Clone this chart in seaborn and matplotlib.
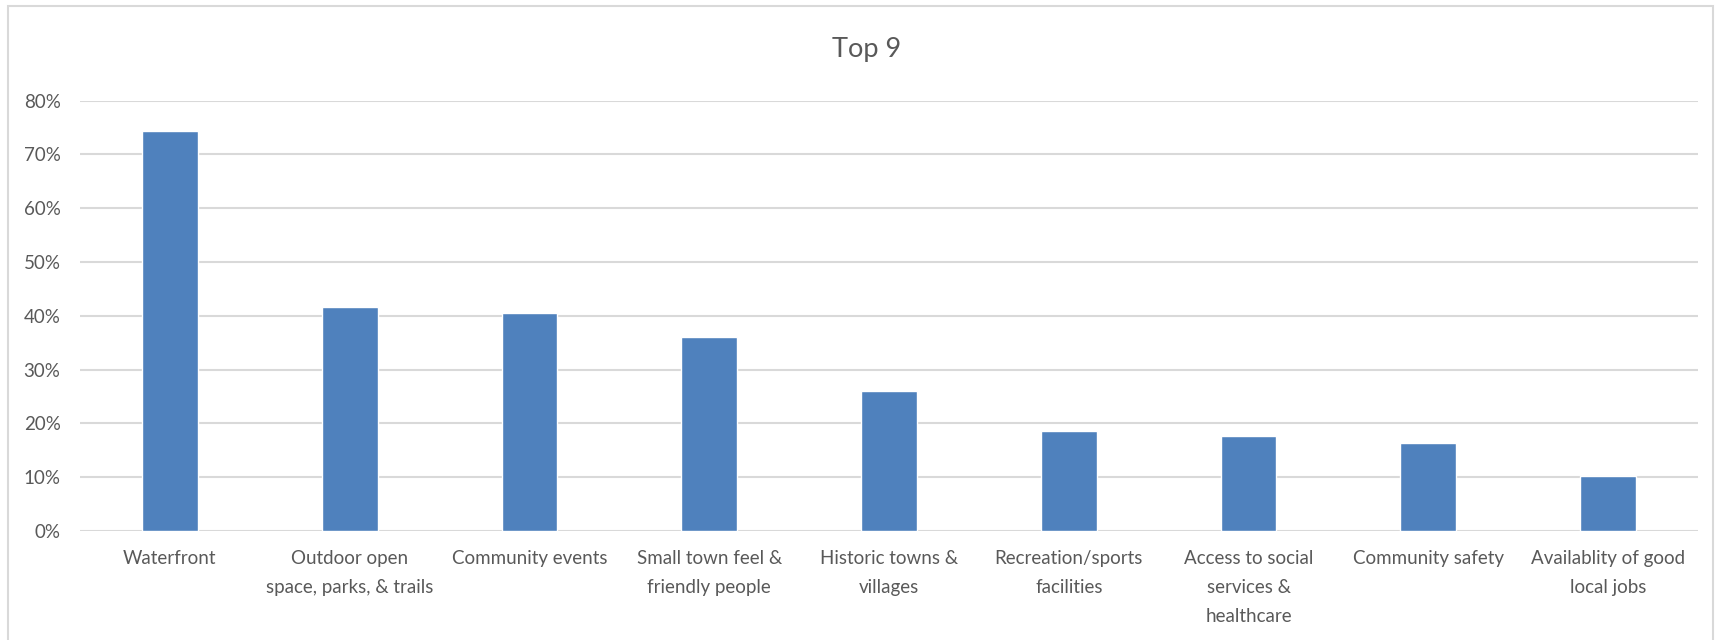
import matplotlib
matplotlib.use("Agg")
import matplotlib.pyplot as plt
import seaborn as sns
from matplotlib.ticker import PercentFormatter, MultipleLocator
from matplotlib.patches import Rectangle

# Share of respondents naming each community asset
categories = [
    "Waterfront",
    "Outdoor open\nspace, parks, & trails",
    "Community events",
    "Small town feel &\nfriendly people",
    "Historic towns &\nvillages",
    "Recreation/sports\nfacilities",
    "Access to social\nservices &\nhealthcare",
    "Community safety",
    "Availablity of good\nlocal jobs",
]
shares = [0.744, 0.417, 0.406, 0.361, 0.261, 0.185, 0.176, 0.164, 0.102]
title = "Top 9"

sns.set_theme(style="white")
plt.rcParams["font.family"] = ["Lato", "DejaVu Sans"]

BAR = "#4F81BD"
GRID = "#D9D9D9"
TEXT = "#595959"

fig = plt.figure(figsize=(17.23, 6.40), dpi=100)
fig.patch.set_facecolor("white")

# light chart-area frame
fig.patches.append(Rectangle((8 / 1723, -0.05), 1705 / 1723, 1.05 - 6 / 640,
                             transform=fig.transFigure, fill=False,
                             edgecolor=GRID, linewidth=1.5))

ax = fig.add_axes([80 / 1723, 109 / 640, 1618 / 1723, 430.3 / 640])
sns.barplot(x=categories, y=shares, color=BAR, saturation=1, width=0.31, ax=ax, zorder=3)

ax.set_ylim(0, 0.8)
ax.set_xlim(-0.5, len(categories) - 0.5)
ax.yaxis.set_major_locator(MultipleLocator(0.1))
ax.yaxis.set_major_formatter(PercentFormatter(1, decimals=0))
ax.grid(axis="y", color=GRID, linewidth=1.5, zorder=0)
for s in ax.spines.values():
    s.set_visible(False)
ax.tick_params(axis="both", length=0, colors=TEXT, labelsize=13.5)
ax.tick_params(axis="y", pad=14)
ax.tick_params(axis="x", pad=14)
for lbl in ax.get_xticklabels():
    lbl.set_linespacing(1.85)
ax.set_xlabel("")
ax.set_ylabel("")

fig.text(0.503, 0.922, title, ha="center", va="center", fontsize=19.5, color=TEXT)

fig.savefig("out.png", dpi=100, facecolor="white")
